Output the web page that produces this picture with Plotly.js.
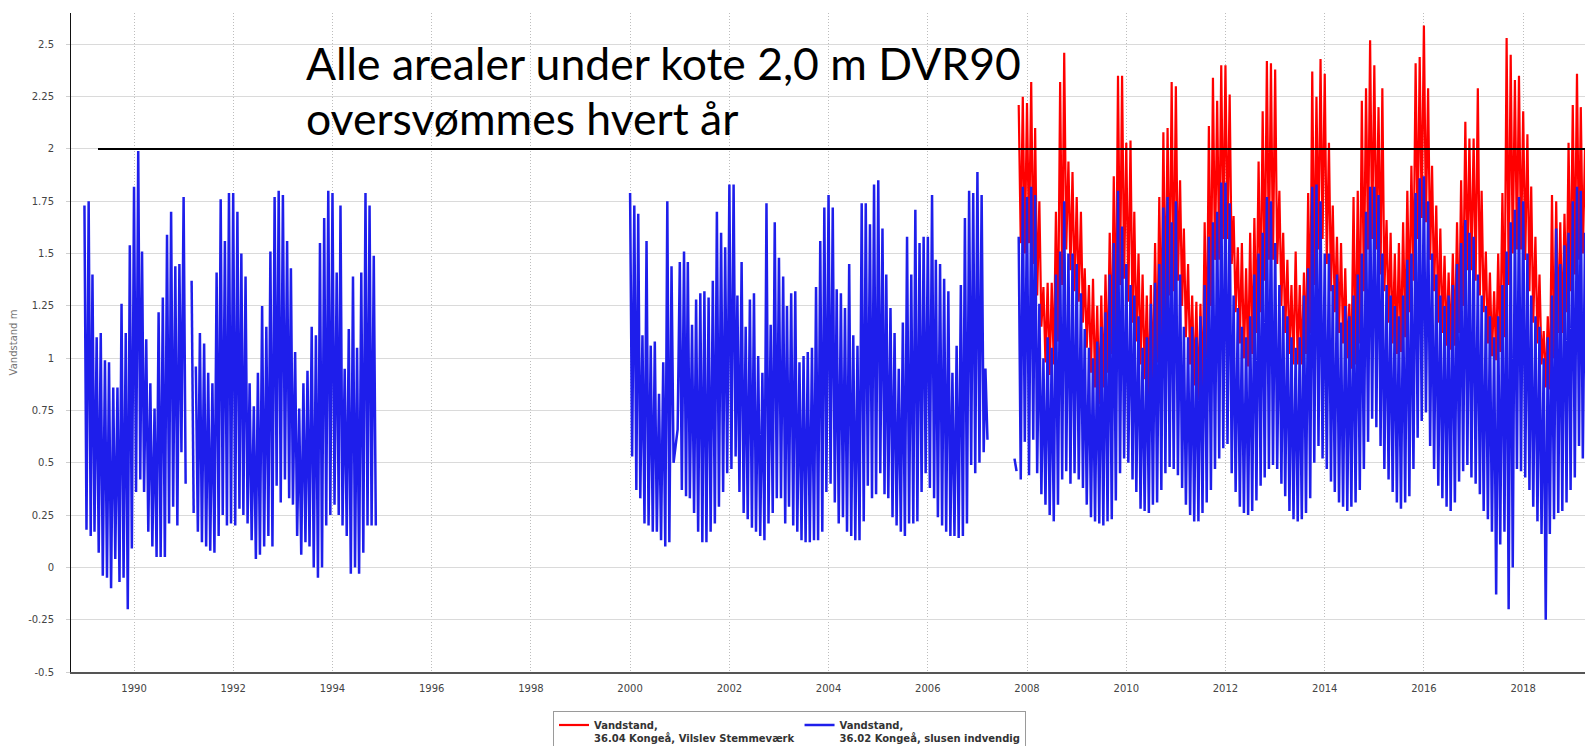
<!DOCTYPE html>
<html>
<head>
<meta charset="utf-8">
<script src="https://cdn.plot.ly/plotly-3.0.1.min.js"></script>
<style>
  html, body { margin: 0; padding: 0; background: #ffffff; }
  #chart { width: 1585px; height: 746px; }
</style>
</head>
<body>
<div id="chart"></div>
<script>
// ---------- DATA (pairs per month: high on the 1st, low on the 16th) ----------
const tickYears = [1990, 1992, 1994, 1996, 1998, 2000, 2002, 2004, 2006, 2008, 2010, 2012, 2014, 2016, 2018];
const yTickVals = [-0.5, -0.25, 0, 0.25, 0.5, 0.75, 1, 1.25, 1.5, 1.75, 2, 2.25, 2.5];
const yTickText = ['-0.5', '-0.25', '0', '0.25', '0.5', '0.75', '1', '1.25', '1.5', '1.75', '2', '2.25', '2.5'];
const floodLevel = 2.0;
const headline = ['Alle arealer under kote 2,0 m DVR90', 'oversvømmes hvert år'];
const redName = '<b>Vandstand,</b><br><b>36.04 Kongeå, Vilslev Stemmeværk</b>';
const blueName = '<b>Vandstand,</b><br><b>36.02 Kongeå, slusen indvendig</b>';
const yTitle = 'Vandstand m';

// 36.02 Kongeå, slusen indvendig (blue) — segment starting Jan 1989
const blue1989 = [
  1.73,0.18, 1.75,0.15, 1.40,0.17, 1.10,0.07, 1.12,-0.04, 0.99,-0.05, 0.98,-0.10, 0.86,0.04, 0.86,-0.07, 1.26,-0.05, 1.12,-0.20, 1.54,0.09,
  1.82,0.36, 1.99,0.42, 1.51,0.36, 1.09,0.17, 0.88,0.10, 0.76,0.05, 1.22,0.05, 1.29,0.05, 1.59,0.21, 1.70,0.29, 1.44,0.20, 1.45,0.55,
  1.77,0.40
];
// isolated reading, Mar 1991
const blue1991a = [1.37, 0.26];
// segment starting Apr 1991
const blue1991b = [
  0.96,0.17, 1.12,0.12, 1.07,0.10, 0.93,0.08, 0.88,0.07, 1.41,0.15, 1.76,0.25, 1.56,0.20, 1.79,0.21,
  1.79,0.20, 1.70,0.28, 1.50,0.25, 1.39,0.21, 0.88,0.13, 0.77,0.04, 0.93,0.06, 1.25,0.10, 1.15,0.15, 1.51,0.10, 1.77,0.39, 1.80,0.31,
  1.78,0.42, 1.56,0.33, 1.43,0.30, 1.03,0.15, 0.76,0.06, 0.88,0.12, 0.94,0.10, 1.15,0.00, 1.11,-0.05, 1.55,0.00, 1.67,0.20, 1.80,0.25,
  1.79,0.30, 1.41,0.25, 1.73,0.20, 0.95,0.15, 1.14,-0.03, 1.39,0.00, 1.05,-0.03, 1.41,0.07, 1.79,0.20, 1.73,0.20, 1.49,0.20
];
// segment starting Jan 2000
const blue2000 = [
  1.79,0.53, 1.73,0.37, 1.69,0.33, 1.11,0.21, 1.56,0.20, 1.06,0.17, 1.08,0.17, 0.83,0.13, 0.98,0.10, 1.75,0.12, 1.44,0.50, 0.58,0.66,
  1.46,0.37, 1.51,0.34, 1.46,0.33, 1.16,0.26, 1.28,0.17, 1.31,0.12, 1.32,0.12, 1.29,0.17, 1.37,0.21, 1.70,0.29, 1.60,0.36, 1.53,0.45,
  1.83,0.47, 1.83,0.53, 1.30,0.36, 1.46,0.26, 1.15,0.23, 1.28,0.19, 1.31,0.17, 1.01,0.15, 0.93,0.13, 1.74,0.21, 1.16,0.26, 1.65,0.33,
  1.48,0.33, 1.39,0.21, 1.25,0.29, 1.31,0.20, 1.32,0.17, 0.98,0.13, 1.01,0.12, 1.03,0.12, 1.05,0.13, 1.34,0.13, 1.56,0.17, 1.72,0.36,
  1.78,0.40, 1.72,0.31, 1.33,0.21, 1.31,0.24, 1.24,0.17, 1.45,0.15, 1.11,0.13, 1.06,0.13, 1.74,0.22, 1.74,0.39, 1.64,0.33, 1.83,0.35,
  1.85,0.45, 1.62,0.35, 1.40,0.33, 1.24,0.24, 1.12,0.20, 0.95,0.17, 1.17,0.15, 1.58,0.21, 1.40,0.21, 1.71,0.22, 1.55,0.36, 1.58,0.45,
  1.58,0.38, 1.78,0.33, 1.47,0.24, 1.45,0.20, 1.38,0.17, 1.32,0.15, 0.93,0.15, 1.06,0.14, 1.35,0.15, 1.67,0.21, 1.80,0.49, 1.79,0.45,
  1.89,0.50, 1.78,0.55, 0.95,0.61
];
// isolated reading, Oct 2007
const blue2007 = [0.52, 0.46];
// segment starting Nov 2007
const blue2008 = [
  1.58,0.42, 1.82,0.60,
  1.77,0.44, 1.82,0.61, 1.78,0.45, 1.26,0.35, 1.00,0.30, 1.10,0.25, 1.05,0.22, 1.40,0.30, 1.51,0.42, 1.75,0.46, 1.50,0.40, 1.50,0.45,
  1.45,0.42, 1.31,0.38, 1.14,0.30, 1.05,0.24, 1.00,0.22, 1.08,0.21, 1.15,0.20, 1.22,0.22, 1.40,0.23, 1.55,0.32, 1.80,0.45, 1.63,0.52,
  1.45,0.50, 1.35,0.42, 1.30,0.36, 1.20,0.28, 1.05,0.27, 1.10,0.26, 1.26,0.30, 1.36,0.31, 1.45,0.37, 1.72,0.45, 1.77,0.48, 1.65,0.47,
  1.75,0.44, 1.40,0.38, 1.15,0.30, 1.10,0.25, 1.15,0.22, 1.10,0.22, 1.20,0.26, 1.35,0.31, 1.58,0.37, 1.65,0.47, 1.70,0.52, 1.84,0.57,
  1.84,0.59, 1.74,0.45, 1.30,0.36, 1.24,0.29, 1.15,0.26, 1.10,0.25, 1.20,0.27, 1.40,0.32, 1.50,0.39, 1.60,0.43, 1.77,0.47, 1.75,0.49,
  1.55,0.47, 1.35,0.40, 1.25,0.34, 1.20,0.27, 1.10,0.23, 1.05,0.22, 1.10,0.23, 1.30,0.26, 1.43,0.33, 1.82,0.50, 1.83,0.58, 1.75,0.52,
  1.50,0.47, 1.50,0.41, 1.35,0.36, 1.40,0.31, 1.17,0.29, 1.25,0.27, 1.20,0.29, 1.30,0.31, 1.40,0.37, 1.50,0.47, 1.70,0.60, 1.82,0.71,
  1.82,0.67, 1.78,0.58, 1.50,0.47, 1.35,0.42, 1.30,0.36, 1.25,0.31, 1.20,0.28, 1.30,0.31, 1.47,0.34, 1.50,0.47, 1.79,0.62, 1.86,0.70,
  1.87,0.74, 1.75,0.58, 1.50,0.47, 1.40,0.39, 1.30,0.33, 1.25,0.29, 1.30,0.27, 1.35,0.31, 1.45,0.41, 1.55,0.46, 1.66,0.49, 1.60,0.43,
  1.58,0.40, 1.40,0.35, 1.30,0.27, 1.25,0.23, 1.20,0.17, 1.10,-0.13, 1.20,0.11, 1.35,0.17, 1.51,-0.20, 1.65,0.00, 1.71,0.47, 1.77,0.46,
  1.75,0.43, 1.50,0.37, 1.30,0.29, 1.20,0.22, 1.15,0.16, 1.00,-0.25, 1.10,0.16, 1.30,0.23, 1.62,0.26, 1.45,0.27, 1.54,0.31, 1.60,0.37,
  1.75,0.43, 1.82,0.58, 1.80,0.52, 1.60,0.45
];
// 36.04 Kongeå, Vilslev Stemmeværk (red) — segment starting Nov 2007
const red2008 = [
  2.21,1.55, 2.25,1.50,
  2.22,1.55, 2.32,1.45, 2.10,1.30, 1.75,1.15, 1.34,0.98, 1.36,0.92, 1.36,0.97, 1.70,1.08, 2.32,1.35, 2.46,1.52, 1.94,1.42, 1.89,1.32,
  1.77,1.27, 1.70,1.17, 1.43,1.05, 1.35,0.93, 1.38,0.86, 1.25,0.78, 1.30,0.86, 1.40,0.93, 1.60,1.02, 1.87,1.08, 2.35,1.35, 2.35,1.38,
  2.03,1.27, 2.04,1.17, 1.70,1.08, 1.50,0.97, 1.40,0.90, 1.30,0.82, 1.35,0.88, 1.55,0.98, 1.77,1.08, 2.08,1.22, 2.10,1.30, 2.32,1.32,
  2.30,1.37, 1.85,1.25, 1.62,1.10, 1.45,0.97, 1.30,0.87, 1.27,0.80, 1.26,0.82, 1.65,1.00, 2.11,1.25, 2.34,1.47, 2.23,1.47, 2.40,1.57,
  2.40,1.57, 2.26,1.45, 1.68,1.22, 1.53,1.07, 1.55,1.00, 1.43,0.96, 1.60,1.02, 1.67,1.12, 1.94,1.22, 2.18,1.37, 2.42,1.47, 2.41,1.47,
  2.38,1.45, 1.80,1.25, 1.60,1.12, 1.47,1.02, 1.35,0.97, 1.51,0.97, 1.35,0.97, 1.41,1.02, 1.79,1.12, 2.37,1.35, 2.25,1.52, 2.43,1.57,
  2.36,1.45, 2.03,1.32, 1.73,1.22, 1.58,1.12, 1.55,1.07, 1.43,1.00, 1.26,0.95, 1.77,0.97, 1.80,1.07, 2.23,1.32, 2.29,1.52, 2.52,1.57,
  2.40,1.52, 2.20,1.40, 2.29,1.32, 1.66,1.17, 1.60,1.07, 1.50,1.02, 1.55,1.03, 1.65,1.10, 1.80,1.22, 1.92,1.37, 2.41,1.57, 2.44,1.67,
  2.59,1.65, 2.29,1.47, 1.92,1.32, 1.73,1.17, 1.62,1.12, 1.49,1.06, 1.41,1.04, 1.50,1.06, 1.65,1.12, 1.85,1.25, 2.13,1.42, 2.05,1.42,
  2.05,1.37, 2.29,1.30, 1.80,1.22, 1.51,1.07, 1.41,1.01, 1.32,0.99, 1.50,1.03, 1.79,1.10, 2.53,1.35, 2.45,1.50, 2.33,1.52, 2.35,1.52,
  2.18,1.47, 2.07,1.32, 1.82,1.17, 1.58,1.07, 1.40,0.97, 1.13,0.86, 1.20,0.85, 1.78,1.00, 1.75,1.12, 1.65,1.12, 1.69,1.22, 2.03,1.32,
  2.21,1.40, 2.36,1.47, 2.20,1.50, 2.00,1.45
];

// ---------- build traces ----------
function pad(n) { return (n < 10 ? '0' : '') + n; }
function segDates(startYear, startMonth, n) {
  const out = [];
  for (let i = 0; i < n; i++) {
    const d = new Date(Date.UTC(startYear, startMonth - 1 + Math.floor(i / 2), (i % 2) ? 16 : 1));
    out.push(d.getUTCFullYear() + '-' + pad(d.getUTCMonth() + 1) + '-' + pad(d.getUTCDate()));
  }
  return out;
}
function joinSegments(segs) {
  const x = [], y = [];
  segs.forEach(function (s, k) {
    const d = segDates(s[0], s[1], s[2].length);
    if (k > 0) { x.push(d[0]); y.push(null); }
    for (let i = 0; i < d.length; i++) { x.push(d[i]); y.push(s[2][i]); }
  });
  return { x: x, y: y };
}

const blueXY = joinSegments([
  [1989, 1, blue1989],
  [1991, 3, blue1991a],
  [1991, 4, blue1991b],
  [2000, 1, blue2000],
  [2007, 10, blue2007],
  [2007, 11, blue2008]
]);
const redXY = joinSegments([[2007, 11, red2008]]);

const traces = [
  {
    type: 'scatter', mode: 'lines', name: redName,
    x: redXY.x, y: redXY.y, connectgaps: false,
    line: { color: '#ff0000', width: 2.2 }
  },
  {
    type: 'scatter', mode: 'lines', name: blueName,
    x: blueXY.x, y: blueXY.y, connectgaps: false,
    line: { color: 'rgb(30,30,235)', width: 2.5 }
  }
];

const L = 71, T = 13, W = 1585, H = 746, B = 74;
const plotW = W - L, plotH = H - T - B;
function px2paperX(px) { return (px - L) / plotW; }
function px2paperY(py) { return (H - B - py) / plotH; }

const layout = {
  width: W, height: H,
  margin: { l: L, r: 0, t: T, b: B, pad: 0, autoexpand: false },
  paper_bgcolor: '#ffffff', plot_bgcolor: '#ffffff',
  showlegend: true,
  font: { family: 'DejaVu Sans, Arial, sans-serif', size: 10, color: '#333' },
  xaxis: {
    type: 'date',
    range: ['1988-09-24', '2019-04-01'],
    tickvals: tickYears.map(function (yr) { return yr + '-01-01'; }),
    ticktext: tickYears.map(String),
    showgrid: true, gridcolor: '#bdbdbd', griddash: '1px,2px', gridwidth: 1,
    showline: true, linecolor: '#555', linewidth: 2,
    ticks: '', ticklabelstandoff: 6,
    tickfont: { family: 'DejaVu Sans, sans-serif', size: 10, color: '#444' },
    zeroline: false, fixedrange: true, automargin: false
  },
  yaxis: {
    range: [-0.5, 2.65],
    tickvals: yTickVals, ticktext: yTickText,
    showgrid: true, gridcolor: '#dadada', gridwidth: 1,
    showline: true, linecolor: '#111', linewidth: 1,
    ticks: 'outside', ticklen: 4, tickcolor: '#cfcfcf',
    ticklabelstandoff: 10,
    tickfont: { family: 'DejaVu Sans, sans-serif', size: 10, color: '#444' },
    zeroline: false, fixedrange: true, automargin: false,
    title: { text: yTitle, font: { size: 10, color: '#777' }, standoff: 8 }
  },
  legend: {
    orientation: 'h',
    xref: 'container', yref: 'container',
    x: 553 / W, xanchor: 'left',
    y: 1 - 711 / H, yanchor: 'top',
    bgcolor: '#ffffff', bordercolor: '#9a9a9a', borderwidth: 1,
    font: { family: 'DejaVu Sans, sans-serif', size: 10, color: '#333' },
    traceorder: 'normal',
    valign: 'top'
  },
  shapes: [
    {
      type: 'line', xref: 'paper', yref: 'y',
      x0: px2paperX(98), x1: 1, y0: floodLevel, y1: floodLevel,
      line: { color: '#000000', width: 2 }, layer: 'above'
    }
  ],
  annotations: [
    {
      xref: 'paper', yref: 'paper', x: px2paperX(304), y: px2paperY(62),
      xanchor: 'left', yanchor: 'middle', showarrow: false,
      text: headline[0], font: { family: 'Lato, Carlito, sans-serif', size: 44.5, color: '#000' }
    },
    {
      xref: 'paper', yref: 'paper', x: px2paperX(304), y: px2paperY(117),
      xanchor: 'left', yanchor: 'middle', showarrow: false,
      text: headline[1], font: { family: 'Lato, Carlito, sans-serif', size: 44.5, color: '#000' }
    }
  ],
  hovermode: false
};

Plotly.newPlot('chart', traces, layout, { displayModeBar: false, staticPlot: true });
</script>
</body>
</html>
